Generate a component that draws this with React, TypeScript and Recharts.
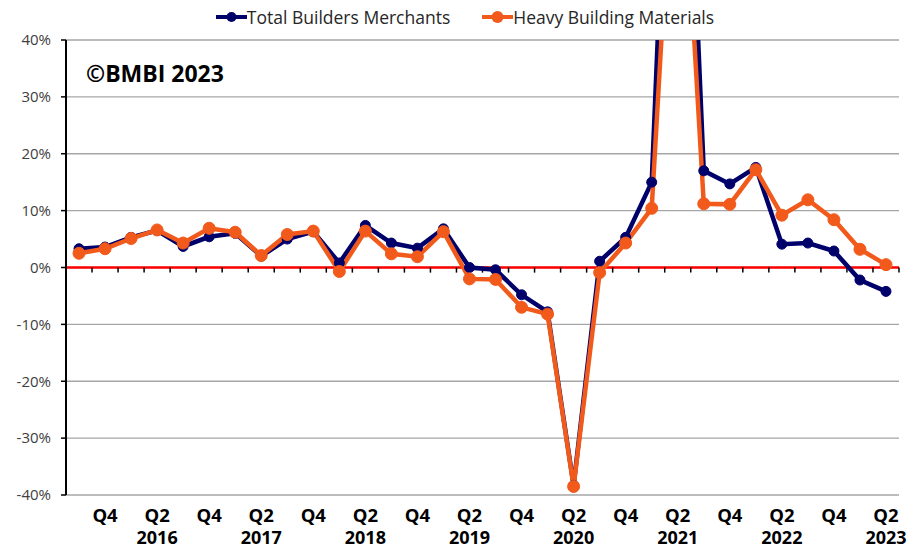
import { LineChart, Line, XAxis, YAxis, CartesianGrid, ReferenceLine } from 'recharts';

// quarters on the category axis
const periods = [
  'Q3 2015', 'Q4 2015',
  'Q1 2016', 'Q2 2016', 'Q3 2016', 'Q4 2016',
  'Q1 2017', 'Q2 2017', 'Q3 2017', 'Q4 2017',
  'Q1 2018', 'Q2 2018', 'Q3 2018', 'Q4 2018',
  'Q1 2019', 'Q2 2019', 'Q3 2019', 'Q4 2019',
  'Q1 2020', 'Q2 2020', 'Q3 2020', 'Q4 2020',
  'Q1 2021', 'Q2 2021', 'Q3 2021', 'Q4 2021',
  'Q1 2022', 'Q2 2022', 'Q3 2022', 'Q4 2022',
  'Q1 2023', 'Q2 2023',
];

// year-on-year % change
const totalBuilders = [
  3.3, 3.6, 5.3, 6.5, 3.7, 5.4, 6.0, 2.0, 5.0, 6.3, 0.8, 7.4, 4.3, 3.4, 6.8, 0.0,
  -0.4, -4.8, -7.8, -38.3, 1.1, 5.3, 15.0, 124, 17.0, 14.7, 17.6, 4.1, 4.3, 2.9, -2.2, -4.2,
];
const heavyBuilding = [
  2.5, 3.3, 5.1, 6.6, 4.3, 6.9, 6.2, 2.1, 5.8, 6.4, -0.7, 6.4, 2.4, 1.9, 6.3, -2.0,
  -2.1, -7.0, -8.2, -38.5, -0.9, 4.3, 10.4, 90, 11.2, 11.1, 17.2, 9.2, 11.9, 8.4, 3.2, 0.5,
];

const yTicks = [-40, -30, -20, -10, 0, 10, 20, 30, 40];

const NAVY = '#00006B';
const ORANGE = '#F25A1C';
const FONT = '"Open Sans", sans-serif';

const data = periods.map((p, i) => ({ i, period: p, tbm: totalBuilders[i], hbm: heavyBuilding[i] }));

// labels only on Q4 and Q2
const labelTicks = data.filter(d => /Q[24]/.test(d.period)).map(d => d.i);
// tick marks sit between categories
const boundaries = periods.map((_, i) => i + 0.5);

const QuarterTick = ({ x, y, payload }: any) => {
  const [q, yr] = periods[payload.value].split(' ');
  return (
    <g transform={`translate(${x},${y})`}>
      <text textAnchor="middle" y={19} dominantBaseline="central" fontFamily={FONT} fontWeight={700} fontSize={18.5} fill="#000">
        {q}
      </text>
      {q === 'Q2' && (
        <text textAnchor="middle" y={42} dominantBaseline="central" fontFamily={FONT} fontWeight={700} fontSize={18} fill="#000">
          {yr}
        </text>
      )}
    </g>
  );
};

const LegendItem = ({ color, label, r }: { color: string; label: string; r: number }) => (
  <div style={{ display: 'flex', alignItems: 'center' }}>
    <svg width={31} height={14}>
      <line x1={0} y1={7} x2={31} y2={7} stroke={color} strokeWidth={4} />
      <circle cx={15.5} cy={7} r={r} fill={color} />
    </svg>
    <span>{label}</span>
  </div>
);

export default function App() {
  return (
    <div style={{ position: 'relative', width: 920, height: 550, fontFamily: FONT, background: '#fff' }}>
      <style>{'body{margin:0}'}</style>
      <LineChart width={920} height={550} data={data} margin={{ top: 40, right: 21, bottom: 0, left: 0 }}>
        <CartesianGrid vertical={false} stroke="#A6A6A6" strokeWidth={1.3} />
        <XAxis
          dataKey="i"
          type="number"
          domain={[-0.5, 31.5]}
          ticks={labelTicks}
          interval={0}
          axisLine={false}
          tickLine={false}
          tickSize={0}
          tickMargin={0}
          height={55}
          tick={<QuarterTick />}
        />
        <YAxis
          domain={[-40, 40]}
          ticks={yTicks}
          allowDataOverflow
          width={66}
          axisLine={{ stroke: '#000', strokeWidth: 2 }}
          tickLine={{ stroke: '#000', strokeWidth: 1.5 }}
          tickSize={5}
          tickMargin={10}
          tickFormatter={v => `${v}%`}
          tick={{ fill: '#404040', fontSize: 15, fontFamily: FONT }}
        />
        <ReferenceLine y={0} stroke="#FF0000" strokeWidth={2.5} />
        {boundaries.map(b => (
          <ReferenceLine
            key={b}
            segment={[{ x: b, y: 0 }, { x: b, y: -0.9 }]}
            stroke="#000"
            strokeWidth={1.5}
          />
        ))}
        <Line
          dataKey="tbm"
          stroke={NAVY}
          strokeWidth={4.5}
          dot={{ r: 5, fill: NAVY, stroke: NAVY, strokeWidth: 1 }}
          isAnimationActive={false}
        />
        <Line
          dataKey="hbm"
          stroke={ORANGE}
          strokeWidth={4.5}
          dot={{ r: 6, fill: ORANGE, stroke: ORANGE, strokeWidth: 1 }}
          isAnimationActive={false}
        />
      </LineChart>
      <div
        style={{
          position: 'absolute', top: 5, left: 0, width: 930, display: 'flex', justifyContent: 'center',
          gap: 32, fontSize: 17.5, color: '#262626',
        }}
      >
        <LegendItem color={NAVY} label="Total Builders Merchants" r={5} />
        <LegendItem color={ORANGE} label="Heavy Building Materials" r={6} />
      </div>
      <div style={{ position: 'absolute', left: 86, top: 57, fontWeight: 700, fontSize: 23, color: '#000' }}>
        ©BMBI 2023
      </div>
    </div>
  );
}
